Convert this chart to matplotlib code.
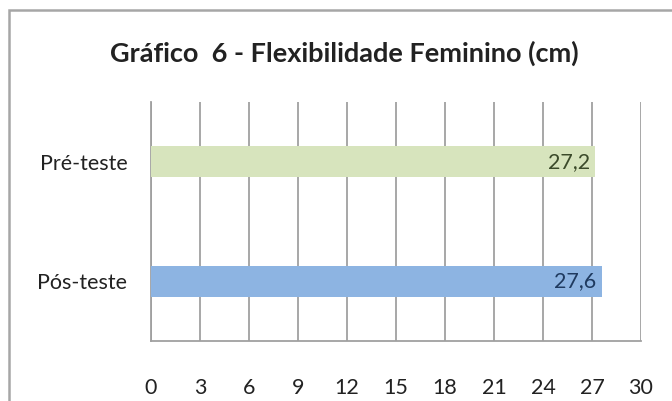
import matplotlib
matplotlib.use("Agg")
import matplotlib.pyplot as plt
from matplotlib.patches import Rectangle

# dados
categorias = ["Pós-teste", "Pré-teste"]
valores = [27.6, 27.2]
rotulos = ["27,6", "27,2"]
cores = ["#8DB4E2", "#D7E4BD"]
cores_texto = ["#1F3A5F", "#3B4A2A"]
xticks = [0, 3, 6, 9, 12, 15, 18, 21, 24, 27, 30]

plt.rcParams['font.family'] = ['Lato', 'DejaVu Sans']

fig = plt.figure(figsize=(6.72, 4.01), dpi=100)
fig.patch.set_facecolor("white")

# moldura do gráfico (cortada à direita e em baixo)
fig.patches.append(Rectangle((9 / 672, -0.1), 1.2, 1 - 10 / 401 + 0.1,
                             transform=fig.transFigure, fill=False,
                             edgecolor="#A6A6A6", linewidth=1.8))

ax = fig.add_axes([151 / 672, 1 - 341 / 401, 490 / 672, 239 / 401])

ax.barh(range(len(categorias)), valores, height=0.26, color=cores, zorder=3)
for i, (v, r) in enumerate(zip(valores, rotulos)):
    ax.annotate(r, (v, i), xytext=(-4, 0), textcoords="offset points",
                ha="right", va="center", fontsize=15.5, color=cores_texto[i],
                zorder=4)

ax.set_xlim(0, 30)
ax.set_ylim(-0.5, 1.5)
ax.set_xticks(xticks)
ax.set_xticklabels([str(t) for t in xticks])
ax.set_yticks(range(len(categorias)))
ax.set_yticklabels(categorias)
ax.tick_params(axis="x", length=0, pad=27, labelsize=15.5, colors="#222222")
ax.tick_params(axis="y", length=0, pad=17, labelsize=15.5, colors="#222222")

ax.grid(axis="x", color="#A0A0A0", linewidth=1.3, zorder=0)
for s in ["top", "right"]:
    ax.spines[s].set_visible(False)
for s in ["left", "bottom"]:
    ax.spines[s].set_color("#A0A0A0")
    ax.spines[s].set_linewidth(1.3)

fig.text(0.513, 1 - 53 / 401, "Gráfico  6 - Flexibilidade Feminino (cm)",
         ha="center", va="center", fontsize=19.5, fontweight="bold",
         color="#222222")

fig.savefig("out.png", dpi=100)
